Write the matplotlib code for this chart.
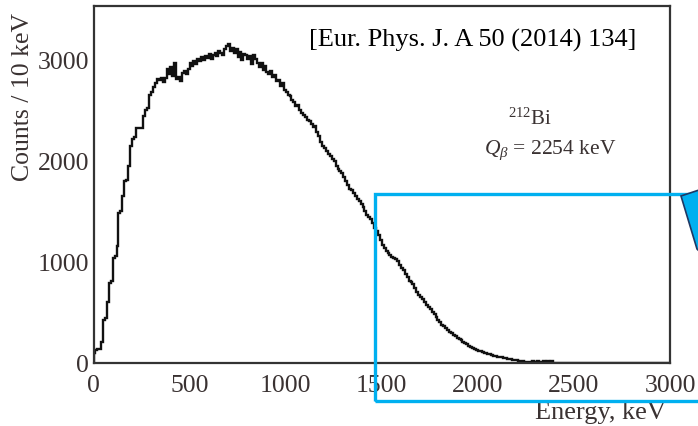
import matplotlib
matplotlib.use('Agg')
import matplotlib.pyplot as plt
from matplotlib.patches import Rectangle, Polygon
import numpy as np

plt.rcParams['font.family'] = 'Liberation Serif'
plt.rcParams['mathtext.fontset'] = 'custom'
plt.rcParams['mathtext.rm'] = 'Liberation Serif'
plt.rcParams['mathtext.it'] = 'Liberation Serif:italic'

# 212Bi beta spectrum, counts per 10 keV bin starting at 0 keV
counts = [
    100, 130, 135, 140, 210, 420, 440, 600, 790, 810,
    1040, 1060, 1160, 1480, 1500, 1650, 1800, 1810, 1950, 2140,
    2210, 2230, 2320, 2320, 2325, 2320, 2440, 2500, 2520, 2650,
    2680, 2730, 2760, 2800, 2790, 2810, 2770, 2810, 2900, 2850,
    2920, 2830, 2960, 2800, 2820, 2780, 2860, 2880, 2850, 2900,
    2960, 2930, 2980, 2950, 3000, 2980, 3020, 2990, 3030, 3010,
    3050, 3000, 3040, 3060, 3030, 3080, 3060, 3040, 3100, 3130,
    3150, 3080, 3110, 3060, 3100, 3020, 3070, 2990, 3050, 3040,
    3000, 3030, 2950, 3040, 3000, 2960, 2920, 2960, 2890, 2930,
    2870, 2850, 2880, 2820, 2840, 2780, 2790, 2740, 2760, 2700,
    2680, 2650, 2640, 2600, 2580, 2540, 2550, 2500, 2470, 2450,
    2430, 2400, 2390, 2360, 2330, 2340, 2280, 2240, 2180, 2140,
    2120, 2090, 2060, 2040, 2010, 1990, 1950, 1920, 1900, 1880,
    1840, 1800, 1760, 1720, 1710, 1680, 1650, 1620, 1600, 1570,
    1540, 1500, 1460, 1440, 1420, 1380, 1330, 1300, 1260, 1210,
    1170, 1140, 1110, 1090, 1070, 1050, 1040, 1030, 1010, 970,
    940, 920, 880, 850, 810, 800, 780, 740, 700, 670,
    650, 630, 600, 570, 550, 530, 500, 480, 450, 420,
    400, 380, 370, 350, 330, 310, 300, 280, 270, 250,
    240, 225, 210, 200, 185, 170, 160, 150, 140, 130,
    120, 115, 110, 100, 95, 90, 85, 80, 70, 65,
    60, 58, 55, 50, 45, 40, 38, 35, 30, 30,
    25, 20, 18, 15, 12, 10, 10, 8, 20, 6,
    5, 15, 5, 3, 15, 3, 15, 2, 15, 0,
] + [0] * 60
bin_width = 10
x_ticks = [0, 500, 1000, 1500, 2000, 2500, 3000]
y_ticks = [0, 1000, 2000, 3000]

W, H = 698, 427
fig = plt.figure(figsize=(W / 100, H / 100), dpi=100)
ax = fig.add_axes([93.5 / W, (H - 364) / H, (670 - 93.5) / W, (364 - 7) / H])

edges = np.arange(len(counts) + 1) * bin_width
ax.stairs(counts, edges, color='#111111', lw=1.7)

ax.set_xlim(0, 3000)
ax.set_ylim(0, 3525)
ax.set_xticks(x_ticks)
ax.set_yticks(y_ticks)
txt = '#3a3232'
ax.tick_params(length=0, labelsize=18.5, labelcolor=txt)
ax.tick_params(axis='x', pad=8)
ax.tick_params(axis='y', pad=3)
for s in ax.spines.values():
    s.set_color('#333333')
    s.set_linewidth(1.6)

ax.text(0.941, 0.905, '[Eur. Phys. J. A 50 (2014) 134]', transform=ax.transAxes,
        ha='right', va='center', fontsize=19, color='black')
fig.text(530 / W, 1 - 119 / H, r'$^{212}$Bi', ha='center', va='center',
         fontsize=15, color=txt)
fig.text(550 / W, 1 - 150 / H, r'$Q_\beta$ = 2254 keV', ha='center',
         va='center', fontsize=15.5, color=txt)

fig.text(23 / W, 1 - 97 / H, 'Counts / 10 keV', rotation=90, ha='center',
         va='center', fontsize=18.5, color=txt)
fig.text(600 / W, 1 - 413 / H, 'Energy, keV', ha='center', va='center',
         fontsize=19, color=txt)

# highlight box over the spectrum tail and a callout edge at the border
px = lambda x, y: (x / W, 1 - y / H)
fig.patches.append(Rectangle(px(375, 402), 400 / W, (402 - 195) / H,
                             transform=fig.transFigure, fill=False,
                             ec='#00b0f0', lw=2.4, zorder=5))
fig.patches.append(Polygon([px(681, 197), px(699, 191), px(699, 252), px(697, 250)],
                           closed=True, transform=fig.transFigure,
                           fc='#00b0f0', ec='#1f3864', lw=1.2, zorder=6))

fig.savefig('out.png', dpi=100)
